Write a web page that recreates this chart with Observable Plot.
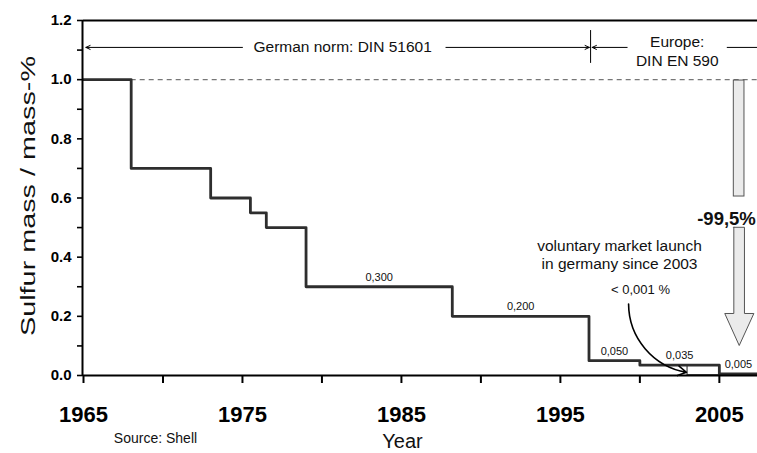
<!DOCTYPE html>
<html>
<head>
<meta charset="utf-8">
<script src="https://cdn.jsdelivr.net/npm/d3@7"></script>
<script src="https://cdn.jsdelivr.net/npm/@observablehq/plot@0.6"></script>
<style>
  html, body { margin: 0; padding: 0; background: #fff; }
</style>
</head>
<body>
<div id="chart"></div>
<script>
// ---- data ----
const stepYears    = [1965, 1968, 1973, 1975.5, 1976.5, 1979, 1988.2, 1996.8, 2000, 2005];
const sulfurLevels = [1.0, 0.7, 0.6, 0.55, 0.5, 0.3, 0.2, 0.05, 0.035, 0.005];
const levelLabels  = ["", "", "", "", "", "0,300", "0,200", "0,050", "0,035", "0,005"];
const endYear = 2007.4;
const xTickYears  = [1965, 1975, 1985, 1995, 2005];
const xMinorYears = [1965, 1970, 1975, 1980, 1985, 1990, 1995, 2000, 2005];
const yTickValues = [0, 0.2, 0.4, 0.6, 0.8, 1.0, 1.2];
const yMinorValues = [0, 0.1, 0.2, 0.3, 0.4, 0.5, 0.6, 0.7, 0.8, 0.9, 1.0, 1.1, 1.2];
const sulfurFreeStart = 2003;
const sulfurFreeLevel = 0.001;
const normChangeYear = 1996.9;
const yTitle = "Sulfur mass / mass-%";

// ---- derived tables ----
const steps = stepYears.map((x, i) => ({x, y: sulfurLevels[i]}))
  .concat([{x: endYear, y: sulfurLevels[sulfurLevels.length - 1]}]);
const labels = stepYears.map((x, i) => ({
  x: (x + (i + 1 < stepYears.length ? stepYears[i + 1] : endYear)) / 2,
  y: sulfurLevels[i],
  text: levelLabels[i]
})).filter(d => d.text);

const FONT = "'Liberation Sans', Arial, Helvetica, sans-serif";

const chart = Plot.plot({
  width: 757,
  height: 453,
  marginLeft: 83,
  marginRight: 0,
  marginTop: 20,
  marginBottom: 78,
  style: {fontFamily: FONT, background: "#fff", color: "#000", overflow: "visible"},
  x: {domain: [1965, endYear]},
  y: {domain: [0, 1.2]},
  marks: [
    // dashed reference at 1.0
    Plot.ruleY([1.0], {x1: stepYears[1], x2: endYear, stroke: "#777", strokeWidth: 1.2, strokeDasharray: "5,4"}),
    // sulfur-free box
    Plot.rect([{x1: sulfurFreeStart, x2: stepYears[stepYears.length - 1], y1: sulfurFreeLevel, y2: sulfurLevels[8]}],
      {x1: "x1", x2: "x2", y1: "y1", y2: "y2", fill: "none", stroke: "#444", strokeWidth: 1.2}),
    // step line
    Plot.line(steps, {x: "x", y: "y", curve: "step-after", stroke: "#2e2e2e", strokeWidth: 2.8}),
    // level labels
    Plot.text(labels, {x: "x", y: "y", text: "text", lineAnchor: "bottom", dy: -6, fontSize: 11, fill: "#111"}),

    // axes
    Plot.axisX({ticks: xMinorYears, tickSize: 8, tickFormat: () => "", strokeWidth: 2, label: null}),
    Plot.axisX({ticks: xTickYears, tickSize: 0, tickPadding: 31, tickFormat: d => String(d), fontSize: 22, fontWeight: "bold", label: null}),
    Plot.axisY({ticks: yMinorValues, tickSize: 6, tickFormat: () => "", strokeWidth: 1.6, label: null}),
    Plot.axisY({ticks: yTickValues, tickSize: 0, tickPadding: 12, tickFormat: d => d.toFixed(1), fontSize: 15, fontWeight: "bold", label: null}),
    Plot.ruleY([0], {stroke: "#000", strokeWidth: 2}),
    Plot.ruleY([1.2], {stroke: "#000", strokeWidth: 2}),
    Plot.ruleX([1965], {stroke: "#000", strokeWidth: 2, dx: -1}),

    // axis titles & source
    Plot.text([yTitle], {frameAnchor: "left", textAnchor: "middle", lineAnchor: "middle", dx: -55, dy: -2, rotate: -90, fontSize: 21, fill: "#111"}),
    Plot.text(["Year"], {frameAnchor: "bottom", lineAnchor: "bottom", dx: -18, dy: 72, fontSize: 20, fill: "#111"}),
    Plot.text(["Source: Shell"], {frameAnchor: "bottom-left", lineAnchor: "bottom", dx: 72, dy: 67, textAnchor: "middle", fontSize: 14, fill: "#111"}),

    // norm annotations at top
    Plot.arrow([{x1: 1975.0, x2: 1965.15, y: 1.109}, {x1: 1987.8, x2: normChangeYear - 0.08, y: 1.109}, {x1: 1999.2, x2: normChangeYear + 0.1, y: 1.109}],
      {x1: "x1", x2: "x2", y1: "y", y2: "y", stroke: "#000", strokeWidth: 1, headLength: 7, headAngle: 50}),
    Plot.ruleY([1.109], {x1: 2005.5, x2: endYear, stroke: "#000", strokeWidth: 1}),
    Plot.ruleX([normChangeYear], {y1: 1.055, y2: 1.166, stroke: "#000", strokeWidth: 1}),
    Plot.text(["German norm: DIN 51601"], {x: () => 1981.3, y: () => 1.109, fontSize: 15.5, fill: "#111"}),
    Plot.text(["Europe:\nDIN EN 590"], {x: () => 2002.35, y: () => 1.098, fontSize: 15.5, lineHeight: 1.22, fill: "#111"}),

    // big reduction arrow
    Plot.rect([{x1: 2005.91, x2: 2006.58, y1: 0.605, y2: 0.997}], {x1: "x1", x2: "x2", y1: "y1", y2: "y2", fill: "#ebebeb", stroke: "#555", strokeWidth: 1}),
    Plot.line([
      {x: 2005.91, y: 0.501}, {x: 2006.58, y: 0.501}, {x: 2006.58, y: 0.2096}, {x: 2007.17, y: 0.2096},
      {x: 2006.25, y: 0.1014}, {x: 2005.34, y: 0.2096}, {x: 2005.91, y: 0.2096}, {x: 2005.91, y: 0.501}
    ], {x: "x", y: "y", fill: "#ebebeb", stroke: "#555", strokeWidth: 1, curve: "linear-closed"}),
    Plot.text(["-99,5%"], {x: () => 2005.45, y: () => 0.529, fontSize: 18.5, fontWeight: "bold", fill: "#111"}),

    // voluntary market launch annotation
    Plot.text(["voluntary market launch\nin germany since 2003"], {x: () => 1998.72, y: () => 0.409, fontSize: 15.5, lineHeight: 1.18, fill: "#111"}),
    Plot.text(["< 0,001 %"], {x: () => 2000.04, y: () => 0.291, fontSize: 13, fill: "#111"}),
    Plot.arrow([{x1: 1999.29, y1: 0.2417, x2: 2002.93, y2: 0.011}],
      {x1: "x1", y1: "y1", x2: "x2", y2: "y2", bend: -40, stroke: "#000", strokeWidth: 1.6, headLength: 9})
  ]
});
// the reference's y title is drawn elongated along its axis
chart.querySelectorAll("text").forEach(t => {
  if (t.textContent === yTitle) {
    t.setAttribute("textLength", 280);
    t.setAttribute("lengthAdjust", "spacingAndGlyphs");
  }
});
document.getElementById("chart").appendChild(chart);
</script>
</body>
</html>
